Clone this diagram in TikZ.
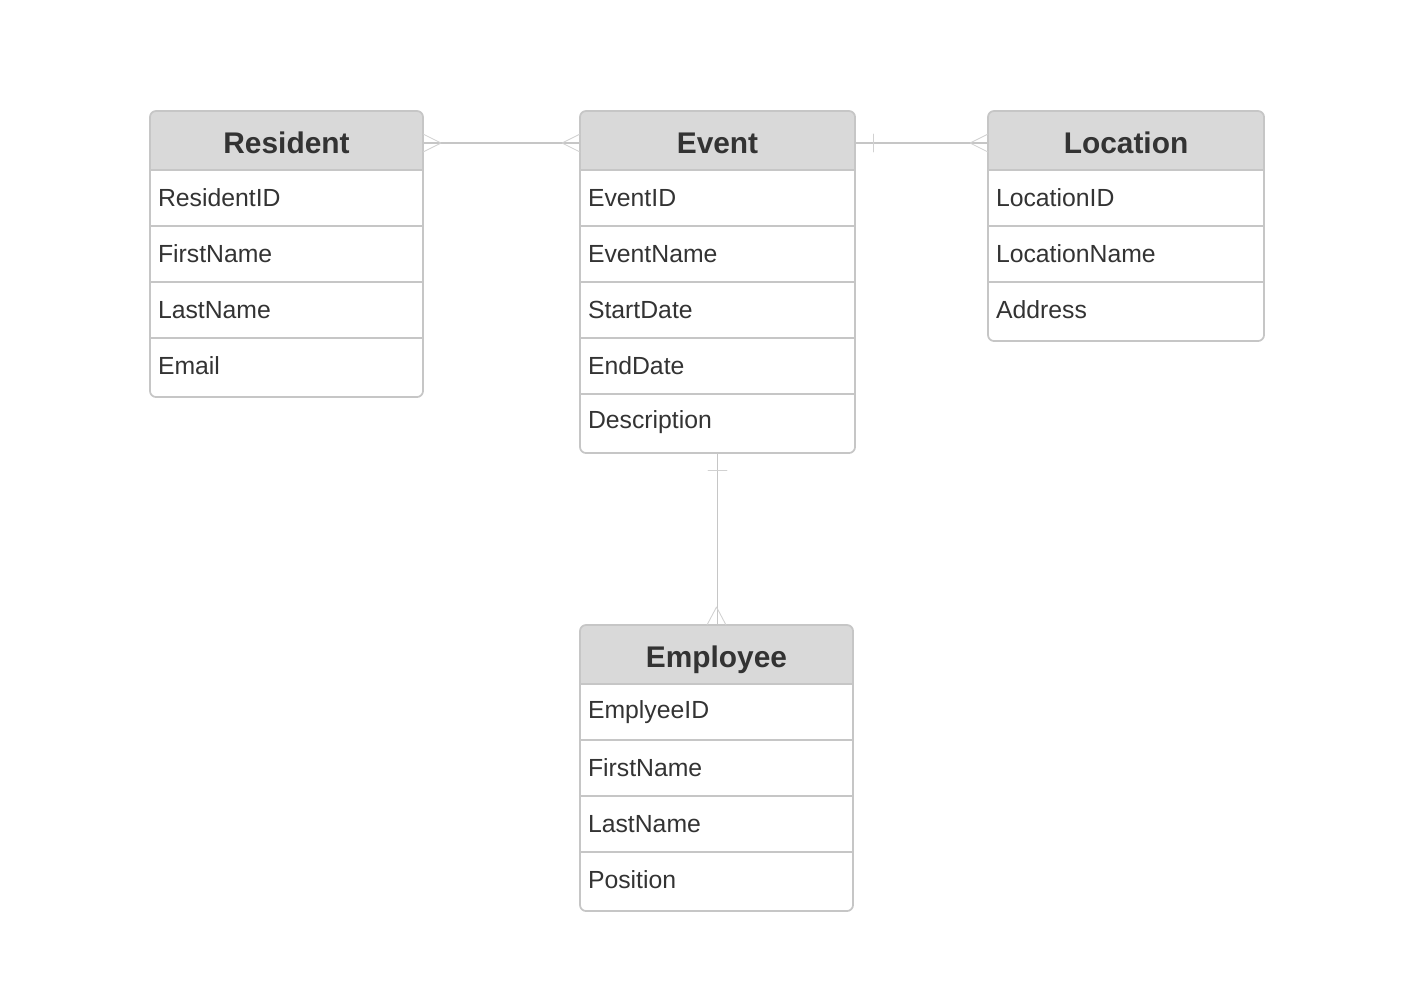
\documentclass[tikz,border=0pt]{standalone}
\usepackage{fontspec}
\setmainfont{Liberation Sans}
\usetikzlibrary{backgrounds}
\definecolor{headgray}{HTML}{D9D9D9}
\definecolor{framegray}{HTML}{C6C6C6}
\definecolor{textgray}{HTML}{333333}
\tikzset{
  enthead/.style={rectangle, minimum height=1.18cm, inner sep=0pt, outer sep=0pt, anchor=north west,
    text height=0.565cm, text depth=0.035cm,
    font=\fontsize{17}{20}\selectfont\bfseries, text=textgray},
  entrow/.style={rectangle, minimum height=1.12cm, inner xsep=0.16cm, inner ysep=0pt, outer sep=0pt,
    align=left, anchor=north west, font=\fontsize{14.1}{17}\selectfont, text=textgray},
  frame/.style={draw=framegray, line width=1pt, rounded corners=0.12cm},
  sep/.style={draw=framegray, line width=0.8pt},
  link/.style={draw=framegray, line width=0.9pt},
  foot/.style={draw=framegray!80, line width=0.5pt},
}
% entity box: name, left, top, width, title, attributes
\newcommand{\erentity}[6]{%
  \node[enthead, minimum width=#4cm, alias=#1-0] (#1) at (#2,#3) {#5};
  \pgfmathsetlengthmacro\rowtw{#4cm-0.32cm}
  \foreach \a [count=\i] in {#6} {
    \pgfmathtruncatemacro\j{\i-1}
    \node[entrow, text width=\rowtw] (#1-\i) at (#1-\j.south west) {\a};
    \draw[sep] (#1-\i.north west) -- (#1-\i.north east);
    \xdef\lastrow{\i}
  }
  \begin{scope}[on background layer]
    \begin{scope}
      \clip[rounded corners=0.12cm] (#1.north west) rectangle ([yshift=-0.06cm]#1-\lastrow.south east);
      \fill[headgray] (#1.north west) rectangle (#1.south east);
    \end{scope}
  \end{scope}
  \draw[frame] (#1.north west) rectangle ([yshift=-0.06cm]#1-\lastrow.south east);
}
\begin{document}
\begin{tikzpicture}[x=1cm, y=-1cm, line join=round, line cap=round]
  \useasboundingbox (0,0) rectangle (28.4,19.88);
  \erentity{resident}{3.0}{2.22}{5.46}{Resident}{ResidentID,FirstName,LastName,Email}
  \erentity{event}{11.6}{2.22}{5.5}{Event}{EventID,EventName,StartDate,EndDate,Description}
  \erentity{location}{19.76}{2.22}{5.52}{Location}{LocationID,LocationName,Address}
  \erentity{employee}{11.6}{12.5}{5.46}{Employee}{EmplyeeID,FirstName,LastName,Position}

  % resident -- event (many to many)
  \draw[link] ([yshift=-0.05cm]resident.east) -- ([yshift=-0.05cm]event.west);
  \draw[foot] ([xshift=0.36cm,yshift=-0.05cm]resident.east) -- ([yshift=0.13cm]resident.east)
              ([xshift=0.36cm,yshift=-0.05cm]resident.east) -- ([yshift=-0.23cm]resident.east);
  \draw[foot] ([xshift=-0.36cm,yshift=-0.05cm]event.west) -- ([yshift=0.13cm]event.west)
              ([xshift=-0.36cm,yshift=-0.05cm]event.west) -- ([yshift=-0.23cm]event.west);

  % event -- location (one to many)
  \draw[link] ([yshift=-0.05cm]event.east) -- ([yshift=-0.05cm]location.west);
  \draw[foot] ([xshift=0.36cm,yshift=0.13cm]event.east) -- ([xshift=0.36cm,yshift=-0.23cm]event.east);
  \draw[foot] ([xshift=-0.36cm,yshift=-0.05cm]location.west) -- ([yshift=0.13cm]location.west)
              ([xshift=-0.36cm,yshift=-0.05cm]location.west) -- ([yshift=-0.23cm]location.west);

  % event -- employee (one to many)
  \draw[link] ([yshift=-0.06cm]event-5.south) -- (event-5.south |- employee.north);
  \draw[foot] ([xshift=-0.19cm,yshift=-0.4cm]event-5.south) -- ([xshift=0.19cm,yshift=-0.4cm]event-5.south);
  \draw[foot] ([yshift=0.36cm]employee.north) -- ([xshift=-0.19cm]employee.north)
              ([yshift=0.36cm]employee.north) -- ([xshift=0.19cm]employee.north);
\end{tikzpicture}
\end{document}
